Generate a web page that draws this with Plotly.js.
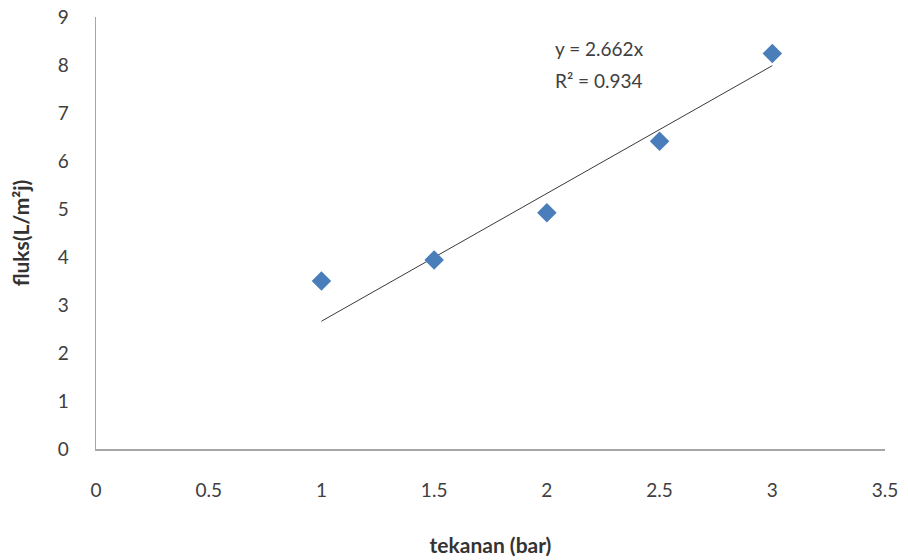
<!DOCTYPE html>
<html>
<head>
<meta charset="utf-8">
<script src="https://cdn.plot.ly/plotly-3.0.1.min.js"></script>
<style>html,body{margin:0;padding:0;background:#fff;}#chart{width:908px;height:560px;}</style>
</head>
<body>
<div id="chart"></div>
<script>
var pressure = [1, 1.5, 2, 2.5, 3];
var flux = [3.5, 3.94, 4.92, 6.41, 8.24];
var slope = 2.662;
var r2 = 0.934;
var trendX = [1, 3];
var trendY = trendX.map(function(x){ return slope * x; });
var xTicks = [0, 0.5, 1, 1.5, 2, 2.5, 3, 3.5];
var yTicks = [0, 1, 2, 3, 4, 5, 6, 7, 8, 9];

var fontFam = 'Lato, "Open Sans", sans-serif';

var data = [
  {x: trendX, y: trendY, mode: 'lines', type: 'scatter',
   line: {color: '#3a3a3a', width: 1}, hoverinfo: 'skip'},
  {x: pressure, y: flux, mode: 'markers', type: 'scatter',
   marker: {symbol: 'diamond', size: 15, color: '#4A7EBB'}}
];

var layout = {
  width: 908, height: 560,
  margin: {l: 96, r: 23, t: 17, b: 111},
  paper_bgcolor: '#fff', plot_bgcolor: '#fff',
  showlegend: false,
  font: {family: fontFam, size: 19, color: '#404040'},
  xaxis: {
    range: [0, 3.5], tickvals: xTicks, ticktext: xTicks.map(String),
    showgrid: false, zeroline: false, showline: true, linecolor: '#a6a6a6', linewidth: 1.5,
    ticks: '', ticklabelstandoff: 24,
    title: {text: 'tekanan (bar)', font: {family: fontFam, size: 21, color: '#333', weight: 'bold'}, standoff: 38}
  },
  yaxis: {
    range: [0, 9], tickvals: yTicks, ticktext: yTicks.map(String),
    showgrid: false, zeroline: false, showline: true, linecolor: '#a6a6a6', linewidth: 1.5,
    ticks: '', ticklabelstandoff: 22,
    title: {text: 'fluks(L/m²j)', font: {family: fontFam, size: 21, color: '#333', weight: 'bold'}, standoff: 22}
  },
  annotations: [
    {xref: 'paper', yref: 'paper', x: (553-96)/789, y: (449-48)/432, xanchor: 'left', yanchor: 'middle',
     text: 'y = ' + slope + 'x', showarrow: false, font: {family: fontFam, size: 19, color: '#404040'}},
    {xref: 'paper', yref: 'paper', x: (553-96)/789, y: (449-80)/432, xanchor: 'left', yanchor: 'middle',
     text: 'R² = ' + r2, showarrow: false, font: {family: fontFam, size: 19, color: '#404040'}}
  ]
};

Plotly.newPlot('chart', data, layout, {displayModeBar: false, staticPlot: true});
</script>
</body>
</html>
